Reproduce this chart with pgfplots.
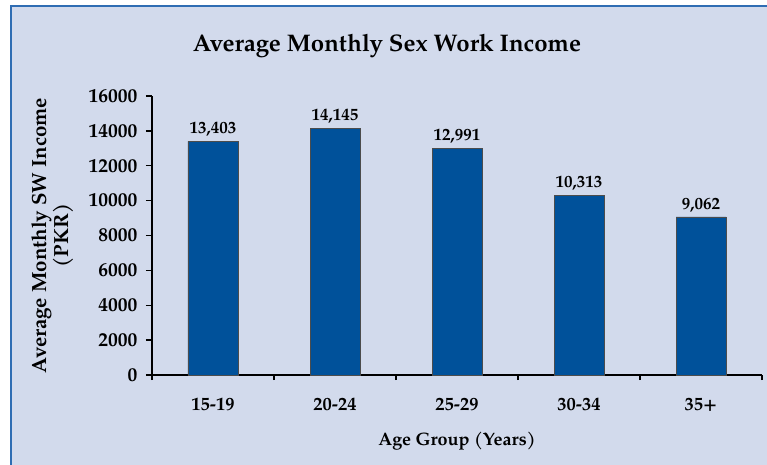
\documentclass[border=0pt]{standalone}
\usepackage{fontspec}
\setmainfont{TeX Gyre Pagella}
\usepackage{pgfplots}
\pgfplotsset{compat=1.18}
\definecolor{bgc}{HTML}{D2DAEC}
\definecolor{barc}{HTML}{00519A}
\definecolor{frame}{HTML}{2F6DB3}
\begin{document}
\begin{tikzpicture}[x=1pt,y=1pt]
\fill[white] (-152,-90) rectangle (615,375);
\fill[bgc] (-141,-90) rectangle (615,369);
\draw[frame, line width=2pt] (-141,-90) -- (-141,369) -- (615,369);
\begin{axis}[
  at={(0,0)}, anchor=south west,
  scale only axis, width=610pt, height=279pt,
  xmin=0.5, xmax=5.5, ymin=0, ymax=16000,
  axis x line*=bottom, axis y line*=left,
  axis line style={line width=1.6pt, -},
  ytick={0,2000,...,16000},
  scaled y ticks=false,
  xtick={1,2,3,4,5},
  xticklabels={15-19,20-24,25-29,30-34,35+},
  minor xtick={0.5,1.5,2.5,3.5,4.5,5.5},
  major x tick style={draw=none},
  minor tick length=5pt,
  major tick length=6pt,
  tick align=outside,
  every tick/.style={black, line width=1.4pt},
  y tick label style={/pgf/number format/.cd, fixed, 1000 sep={}, /tikz/.cd, xshift=-5pt, font=\bfseries\fontsize{19.5}{20}\selectfont},
  x tick label style={yshift=-14pt, font=\bfseries\fontsize{18.5}{20}\selectfont},
  /pgf/number format/assume math mode=true,
  xlabel={Age Group (Years)},
  xlabel style={font=\bfseries\fontsize{18}{20}\selectfont, yshift=-14pt},
  ylabel={Average Monthly SW Income\\(PKR)},
  ylabel style={font=\bfseries\fontsize{20.5}{22}\selectfont, align=center, yshift=8pt},
  title={Average Monthly Sex Work Income},
  title style={font=\bfseries\fontsize{24}{28}\selectfont, yshift=29pt, xshift=-70pt},
  ybar, bar width=50pt,
  nodes near coords,
  every node near coord/.append style={font=\bfseries\fontsize{17}{18}\selectfont, black, yshift=1pt,
     /pgf/number format/.cd, fixed, 1000 sep={,}, assume math mode=true},
]
\addplot[fill=barc, draw=black!70, line width=0.8pt] coordinates {(1,13403) (2,14145) (3,12991) (4,10313) (5,9062)};
\end{axis}
\pgfresetboundingbox
\path[use as bounding box] (-152,-90) rectangle (615,375);
\end{tikzpicture}
\end{document}
